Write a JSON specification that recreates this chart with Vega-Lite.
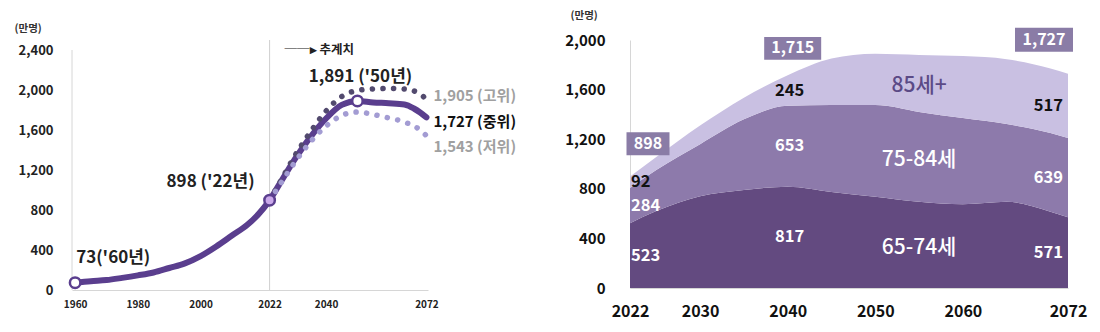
{
  "$schema": "https://vega.github.io/schema/vega-lite/v6.json",
  "background": "white",
  "padding": {"left": 14, "top": 10, "right": 5, "bottom": 5},
  "config": {"font": "Noto Sans CJK KR", "view": {"stroke": null}},
  "spacing": 202,
  "bounds": "flush",
  "resolve": {"scale": {"color": "independent", "fill": "independent"}},
  "datasets": {
    "lines": [
      {"year": 1960, "value": 73, "scenario": "중위"},
      {"year": 1965, "value": 88, "scenario": "중위"},
      {"year": 1970, "value": 99, "scenario": "중위"},
      {"year": 1975, "value": 121, "scenario": "중위"},
      {"year": 1980, "value": 146, "scenario": "중위"},
      {"year": 1985, "value": 175, "scenario": "중위"},
      {"year": 1990, "value": 220, "scenario": "중위"},
      {"year": 1995, "value": 266, "scenario": "중위"},
      {"year": 2000, "value": 339, "scenario": "중위"},
      {"year": 2005, "value": 436, "scenario": "중위"},
      {"year": 2010, "value": 545, "scenario": "중위"},
      {"year": 2015, "value": 654, "scenario": "중위"},
      {"year": 2020, "value": 815, "scenario": "중위"},
      {"year": 2022, "value": 898, "scenario": "중위"},
      {"year": 2025, "value": 1051, "scenario": "중위"},
      {"year": 2030, "value": 1306, "scenario": "중위"},
      {"year": 2035, "value": 1529, "scenario": "중위"},
      {"year": 2040, "value": 1715, "scenario": "중위"},
      {"year": 2045, "value": 1851, "scenario": "중위"},
      {"year": 2050, "value": 1891, "scenario": "중위"},
      {"year": 2055, "value": 1876, "scenario": "중위"},
      {"year": 2060, "value": 1868, "scenario": "중위"},
      {"year": 2065, "value": 1855, "scenario": "중위"},
      {"year": 2068, "value": 1815, "scenario": "중위"},
      {"year": 2070, "value": 1775, "scenario": "중위"},
      {"year": 2072, "value": 1727, "scenario": "중위"},
      {"year": 2022, "value": 898, "scenario": "고위"},
      {"year": 2025, "value": 1062, "scenario": "고위"},
      {"year": 2030, "value": 1340, "scenario": "고위"},
      {"year": 2035, "value": 1580, "scenario": "고위"},
      {"year": 2040, "value": 1790, "scenario": "고위"},
      {"year": 2045, "value": 1935, "scenario": "고위"},
      {"year": 2050, "value": 1995, "scenario": "고위"},
      {"year": 2055, "value": 2010, "scenario": "고위"},
      {"year": 2060, "value": 2015, "scenario": "고위"},
      {"year": 2065, "value": 2010, "scenario": "고위"},
      {"year": 2070, "value": 1960, "scenario": "고위"},
      {"year": 2072, "value": 1905, "scenario": "고위"},
      {"year": 2022, "value": 898, "scenario": "저위"},
      {"year": 2025, "value": 1040, "scenario": "저위"},
      {"year": 2030, "value": 1275, "scenario": "저위"},
      {"year": 2035, "value": 1480, "scenario": "저위"},
      {"year": 2040, "value": 1640, "scenario": "저위"},
      {"year": 2045, "value": 1745, "scenario": "저위"},
      {"year": 2050, "value": 1780, "scenario": "저위"},
      {"year": 2055, "value": 1755, "scenario": "저위"},
      {"year": 2060, "value": 1720, "scenario": "저위"},
      {"year": 2065, "value": 1680, "scenario": "저위"},
      {"year": 2070, "value": 1600, "scenario": "저위"},
      {"year": 2072, "value": 1543, "scenario": "저위"}
    ],
    "area": [
      {"year": 2022, "group": "65-74세", "value": 523},
      {"year": 2022, "group": "75-84세", "value": 284},
      {"year": 2022, "group": "85세+", "value": 92},
      {"year": 2025, "group": "65-74세", "value": 620},
      {"year": 2025, "group": "75-84세", "value": 332},
      {"year": 2025, "group": "85세+", "value": 104},
      {"year": 2030, "group": "65-74세", "value": 740},
      {"year": 2030, "group": "75-84세", "value": 420},
      {"year": 2030, "group": "85세+", "value": 150},
      {"year": 2035, "group": "65-74세", "value": 790},
      {"year": 2035, "group": "75-84세", "value": 570},
      {"year": 2035, "group": "85세+", "value": 175},
      {"year": 2040, "group": "65-74세", "value": 817},
      {"year": 2040, "group": "75-84세", "value": 653},
      {"year": 2040, "group": "85세+", "value": 245},
      {"year": 2045, "group": "65-74세", "value": 775},
      {"year": 2045, "group": "75-84세", "value": 700},
      {"year": 2045, "group": "85세+", "value": 375},
      {"year": 2050, "group": "65-74세", "value": 735},
      {"year": 2050, "group": "75-84세", "value": 740},
      {"year": 2050, "group": "85세+", "value": 415},
      {"year": 2055, "group": "65-74세", "value": 695},
      {"year": 2055, "group": "75-84세", "value": 725},
      {"year": 2055, "group": "85세+", "value": 460},
      {"year": 2060, "group": "65-74세", "value": 675},
      {"year": 2060, "group": "75-84세", "value": 695},
      {"year": 2060, "group": "85세+", "value": 500},
      {"year": 2065, "group": "65-74세", "value": 695},
      {"year": 2065, "group": "75-84세", "value": 627},
      {"year": 2065, "group": "85세+", "value": 523},
      {"year": 2070, "group": "65-74세", "value": 615},
      {"year": 2070, "group": "75-84세", "value": 635},
      {"year": 2070, "group": "85세+", "value": 520},
      {"year": 2072, "group": "65-74세", "value": 571},
      {"year": 2072, "group": "75-84세", "value": 639},
      {"year": 2072, "group": "85세+", "value": 517}
    ]
  },
  "hconcat": [
    {
      "width": 356,
      "height": 250,
      "layer": [
        {
          "data": {"values": [{"year": 2022}]},
          "mark": {"type": "rule", "color": "#cfcfcf", "strokeWidth": 1},
          "encoding": {
            "x": {"field": "year", "type": "quantitative", "scale": {"domain": [1959, 2072.5], "nice": false, "zero": false}}
          }
        },
        {
          "data": {"name": "lines"},
          "transform": [{"filter": "datum.scenario === '중위'"}],
          "mark": {"type": "line", "color": "#5a3e8e", "strokeWidth": 6, "interpolate": "monotone", "strokeCap": "round"},
          "encoding": {
            "x": {"field": "year", "type": "quantitative", "scale": {"domain": [1959, 2072.5], "nice": false, "zero": false},
              "axis": {"title": null, "values": [1960, 1980, 2000, 2022, 2040, 2072], "format": "d", "labelFontSize": 10, "labelFontWeight": "bold", "labelColor": "#222", "ticks": false, "tickSize": 0, "labelPadding": 9, "domainColor": "#d6d6d6", "grid": false, "labelFlush": false}},
            "y": {"field": "value", "type": "quantitative", "scale": {"domain": [0, 2500], "nice": false},
              "axis": {"values": [0, 400, 800, 1200, 1600, 2000, 2400], "format": ",d", "labelFontSize": 13, "labelFontWeight": "bold", "labelColor": "#222", "ticks": false, "tickSize": 0, "labelPadding": 19, "domain": false, "grid": false,
                "title": "(만명)", "titleAngle": 0, "titleAlign": "left", "titleBaseline": "middle", "titleX": -58, "titleY": -12, "titleFontSize": 10.5, "titleFontWeight": "bold", "titleColor": "#333"}}
          }
        },
        {
          "data": {"values": [{"year": 1959, "low": 0, "high": 2400}]},
          "mark": {"type": "rule", "color": "#d6d6d6", "strokeWidth": 1},
          "encoding": {
            "x": {"field": "year", "type": "quantitative", "scale": {"domain": [1959, 2072.5], "nice": false, "zero": false}},
            "y": {"field": "low", "type": "quantitative", "scale": {"domain": [0, 2500], "nice": false}},
            "y2": {"field": "high"}
          }
        },
        {
          "data": {"name": "lines"},
          "transform": [{"filter": {"field": "scenario", "oneOf": ["고위", "저위"]}}],
          "mark": {"type": "line", "strokeWidth": 5.5, "strokeDash": [0.1, 10.5], "strokeCap": "round", "interpolate": "monotone"},
          "encoding": {
            "x": {"field": "year", "type": "quantitative", "scale": {"domain": [1959, 2072.5], "nice": false, "zero": false}},
            "y": {"field": "value", "type": "quantitative", "scale": {"domain": [0, 2500], "nice": false}},
            "color": {"field": "scenario", "type": "nominal", "scale": {"domain": ["고위", "저위"], "range": ["#524a6e", "#a39cd3"]}, "legend": null}
          }
        },
        {
          "data": {"values": [{"year": 1960, "value": 73}, {"year": 2022, "value": 898}, {"year": 2050, "value": 1891}]},
          "mark": {"type": "circle", "size": 110, "stroke": "#5a3e8e", "strokeWidth": 2.5, "opacity": 1},
          "encoding": {
            "x": {"field": "year", "type": "quantitative", "scale": {"domain": [1959, 2072.5], "nice": false, "zero": false}},
            "y": {"field": "value", "type": "quantitative", "scale": {"domain": [0, 2500], "nice": false}},
            "fill": {"condition": {"test": "datum.year === 2022", "value": "#caa8ea"}, "value": "white"}
          }
        },
        {
          "data": {"values": [{"year": 1960, "value": 73, "label": "73('60년)"}]},
          "mark": {"type": "text", "align": "left", "baseline": "middle", "dx": 1, "dy": -25, "fontSize": 17, "fontWeight": "bold", "color": "#222"},
          "encoding": {
            "x": {"field": "year", "type": "quantitative", "scale": {"domain": [1959, 2072.5], "nice": false, "zero": false}},
            "y": {"field": "value", "type": "quantitative", "scale": {"domain": [0, 2500], "nice": false}},
            "text": {"field": "label"}
          }
        },
        {
          "data": {"values": [{"year": 2022, "value": 898, "label": "898 ('22년)"}]},
          "mark": {"type": "text", "align": "right", "baseline": "middle", "dx": -15, "dy": -18, "fontSize": 17, "fontWeight": "bold", "color": "#222"},
          "encoding": {
            "x": {"field": "year", "type": "quantitative", "scale": {"domain": [1959, 2072.5], "nice": false, "zero": false}},
            "y": {"field": "value", "type": "quantitative", "scale": {"domain": [0, 2500], "nice": false}},
            "text": {"field": "label"}
          }
        },
        {
          "data": {"values": [{"year": 2050, "value": 1891, "label": "1,891 ('50년)"}]},
          "mark": {"type": "text", "align": "center", "baseline": "middle", "dx": 3, "dy": -24, "fontSize": 17, "fontWeight": "bold", "color": "#222"},
          "encoding": {
            "x": {"field": "year", "type": "quantitative", "scale": {"domain": [1959, 2072.5], "nice": false, "zero": false}},
            "y": {"field": "value", "type": "quantitative", "scale": {"domain": [0, 2500], "nice": false}},
            "text": {"field": "label"}
          }
        },
        {
          "data": {"values": [{"year": 2072, "value": 1905, "label": "1,905 (고위)"}]},
          "mark": {"type": "text", "align": "left", "baseline": "middle", "dx": 7, "dy": -4, "fontSize": 15, "fontWeight": "bold", "color": "#a0a0a0"},
          "encoding": {
            "x": {"field": "year", "type": "quantitative", "scale": {"domain": [1959, 2072.5], "nice": false, "zero": false}},
            "y": {"field": "value", "type": "quantitative", "scale": {"domain": [0, 2500], "nice": false}},
            "text": {"field": "label"}
          }
        },
        {
          "data": {"values": [{"year": 2072, "value": 1727, "label": "1,727 (중위)"}]},
          "mark": {"type": "text", "align": "left", "baseline": "middle", "dx": 7, "dy": 5, "fontSize": 15, "fontWeight": "bold", "color": "#111"},
          "encoding": {
            "x": {"field": "year", "type": "quantitative", "scale": {"domain": [1959, 2072.5], "nice": false, "zero": false}},
            "y": {"field": "value", "type": "quantitative", "scale": {"domain": [0, 2500], "nice": false}},
            "text": {"field": "label"}
          }
        },
        {
          "data": {"values": [{"year": 2072, "value": 1543, "label": "1,543 (저위)"}]},
          "mark": {"type": "text", "align": "left", "baseline": "middle", "dx": 7, "dy": 11, "fontSize": 15, "fontWeight": "bold", "color": "#a0a0a0"},
          "encoding": {
            "x": {"field": "year", "type": "quantitative", "scale": {"domain": [1959, 2072.5], "nice": false, "zero": false}},
            "y": {"field": "value", "type": "quantitative", "scale": {"domain": [0, 2500], "nice": false}},
            "text": {"field": "label"}
          }
        },
        {
          "data": {"values": [{"year": 2022, "value": 2400, "label": "──▸ 추계치"}]},
          "mark": {"type": "text", "align": "left", "baseline": "middle", "dx": 15, "dy": 0, "fontSize": 12.5, "fontWeight": "bold", "color": "#222"},
          "encoding": {
            "x": {"field": "year", "type": "quantitative", "scale": {"domain": [1959, 2072.5], "nice": false, "zero": false}},
            "y": {"field": "value", "type": "quantitative", "scale": {"domain": [0, 2500], "nice": false}},
            "text": {"field": "label"}
          }
        }
      ]
    },
    {
      "width": 438,
      "height": 248,
      "layer": [
        {
          "data": {"name": "area"},
          "mark": {"type": "area", "interpolate": "monotone", "opacity": 1},
          "encoding": {
            "x": {"field": "year", "type": "quantitative", "scale": {"domain": [2022, 2072], "nice": false, "zero": false},
              "axis": {"title": null, "values": [2022, 2030, 2040, 2050, 2060, 2072], "format": "d", "labelFontSize": 16, "labelFontWeight": "bold", "labelColor": "#111", "ticks": false, "tickSize": 0, "labelPadding": 15, "domainColor": "#d6d6d6", "grid": false, "labelFlush": false}},
            "y": {"field": "value", "type": "quantitative", "stack": "zero", "scale": {"domain": [0, 2000], "nice": false},
              "axis": {"values": [0, 400, 800, 1200, 1600, 2000], "format": ",d", "labelFontSize": 15, "labelFontWeight": "bold", "labelColor": "#111", "ticks": false, "tickSize": 0, "labelPadding": 25, "domainColor": "#d6d6d6", "grid": false,
                "title": "(만명)", "titleAngle": 0, "titleAlign": "left", "titleBaseline": "middle", "titleX": -60, "titleY": -25, "titleFontSize": 10.5, "titleFontWeight": "bold", "titleColor": "#333"}},
            "color": {"field": "group", "type": "nominal", "scale": {"domain": ["65-74세", "75-84세", "85세+"], "range": ["#634a80", "#8d7aab", "#c9c0e2"]}, "legend": null},
            "order": {"field": "group", "type": "nominal", "sort": "ascending"}
          }
        },
        {
          "data": {"name": "area"},
          "transform": [{"filter": "datum.year === 2022"}],
          "mark": {"type": "text", "align": "left", "baseline": "middle", "dx": 1, "fontSize": 16.5, "fontWeight": "bold"},
          "encoding": {
            "x": {"field": "year", "type": "quantitative", "scale": {"domain": [2022, 2072], "nice": false, "zero": false}},
            "y": {"field": "value", "type": "quantitative", "stack": "zero", "bandPosition": 0.5, "scale": {"domain": [0, 2000], "nice": false}},
            "detail": {"field": "group", "type": "nominal"},
            "order": {"field": "group", "type": "nominal", "sort": "ascending"},
            "text": {"field": "value", "type": "quantitative"},
            "color": {"condition": {"test": "datum.group === '85세+'", "value": "#111"}, "value": "white"}
          }
        },
        {
          "data": {"name": "area"},
          "transform": [{"filter": "datum.year === 2040"}],
          "mark": {"type": "text", "align": "center", "baseline": "middle", "dx": 2, "fontSize": 16.5, "fontWeight": "bold"},
          "encoding": {
            "x": {"field": "year", "type": "quantitative", "scale": {"domain": [2022, 2072], "nice": false, "zero": false}},
            "y": {"field": "value", "type": "quantitative", "stack": "zero", "bandPosition": 0.5, "scale": {"domain": [0, 2000], "nice": false}},
            "detail": {"field": "group", "type": "nominal"},
            "order": {"field": "group", "type": "nominal", "sort": "ascending"},
            "text": {"field": "value", "type": "quantitative"},
            "color": {"condition": {"test": "datum.group === '85세+'", "value": "#111"}, "value": "white"}
          }
        },
        {
          "data": {"name": "area"},
          "transform": [{"filter": "datum.year === 2072"}],
          "mark": {"type": "text", "align": "right", "baseline": "middle", "dx": -5, "fontSize": 16.5, "fontWeight": "bold"},
          "encoding": {
            "x": {"field": "year", "type": "quantitative", "scale": {"domain": [2022, 2072], "nice": false, "zero": false}},
            "y": {"field": "value", "type": "quantitative", "stack": "zero", "bandPosition": 0.5, "scale": {"domain": [0, 2000], "nice": false}},
            "detail": {"field": "group", "type": "nominal"},
            "order": {"field": "group", "type": "nominal", "sort": "ascending"},
            "text": {"field": "value", "type": "quantitative"},
            "color": {"condition": {"test": "datum.group === '85세+'", "value": "#111"}, "value": "white"}
          }
        },
        {
          "data": {"name": "area"},
          "transform": [{"filter": "datum.year === 2055"}],
          "mark": {"type": "text", "align": "center", "baseline": "middle", "dy": 3, "fontSize": 21, "fontWeight": 500},
          "encoding": {
            "x": {"field": "year", "type": "quantitative", "scale": {"domain": [2022, 2072], "nice": false, "zero": false}},
            "y": {"field": "value", "type": "quantitative", "stack": "zero", "bandPosition": 0.5, "scale": {"domain": [0, 2000], "nice": false}},
            "detail": {"field": "group", "type": "nominal"},
            "order": {"field": "group", "type": "nominal", "sort": "ascending"},
            "text": {"field": "group", "type": "nominal"},
            "color": {"condition": {"test": "datum.group === '85세+'", "value": "#5b4a86"}, "value": "white"}
          }
        },
        {
          "data": {"values": [{"year": 2022, "value": 898, "label": "898"}]},
          "encoding": {
            "x": {"field": "year", "type": "quantitative", "scale": {"domain": [2022, 2072], "nice": false, "zero": false}},
            "y": {"field": "value", "type": "quantitative", "scale": {"domain": [0, 2000], "nice": false}}
          },
          "layer": [
            {"mark": {"type": "point", "shape": "M-1,-0.535H1V0.535H-1Z", "size": 1849, "filled": true, "fill": "#8a7ca6", "opacity": 1, "strokeWidth": 0, "xOffset": 18, "yOffset": -33}},
            {"mark": {"type": "text", "align": "center", "baseline": "middle", "fontSize": 16, "fontWeight": "bold", "color": "white", "xOffset": 18, "yOffset": -33}, "encoding": {"text": {"field": "label"}}}
          ]
        },
        {
          "data": {"values": [{"year": 2040, "value": 1715, "label": "1,715"}]},
          "encoding": {
            "x": {"field": "year", "type": "quantitative", "scale": {"domain": [2022, 2072], "nice": false, "zero": false}},
            "y": {"field": "value", "type": "quantitative", "scale": {"domain": [0, 2000], "nice": false}}
          },
          "layer": [
            {"mark": {"type": "point", "shape": "M-1,-0.4H1V0.4H-1Z", "size": 3249, "filled": true, "fill": "#8a7ca6", "opacity": 1, "strokeWidth": 0, "xOffset": 5, "yOffset": -27}},
            {"mark": {"type": "text", "align": "center", "baseline": "middle", "fontSize": 16, "fontWeight": "bold", "color": "white", "xOffset": 5, "yOffset": -27}, "encoding": {"text": {"field": "label"}}}
          ]
        },
        {
          "data": {"values": [{"year": 2072, "value": 1727, "label": "1,727"}]},
          "encoding": {
            "x": {"field": "year", "type": "quantitative", "scale": {"domain": [2022, 2072], "nice": false, "zero": false}},
            "y": {"field": "value", "type": "quantitative", "scale": {"domain": [0, 2000], "nice": false}}
          },
          "layer": [
            {"mark": {"type": "point", "shape": "M-1,-0.414H1V0.414H-1Z", "size": 3364, "filled": true, "fill": "#8a7ca6", "opacity": 1, "strokeWidth": 0, "xOffset": -24, "yOffset": -34}},
            {"mark": {"type": "text", "align": "center", "baseline": "middle", "fontSize": 16, "fontWeight": "bold", "color": "white", "xOffset": -24, "yOffset": -34}, "encoding": {"text": {"field": "label"}}}
          ]
        }
      ]
    }
  ]
}
